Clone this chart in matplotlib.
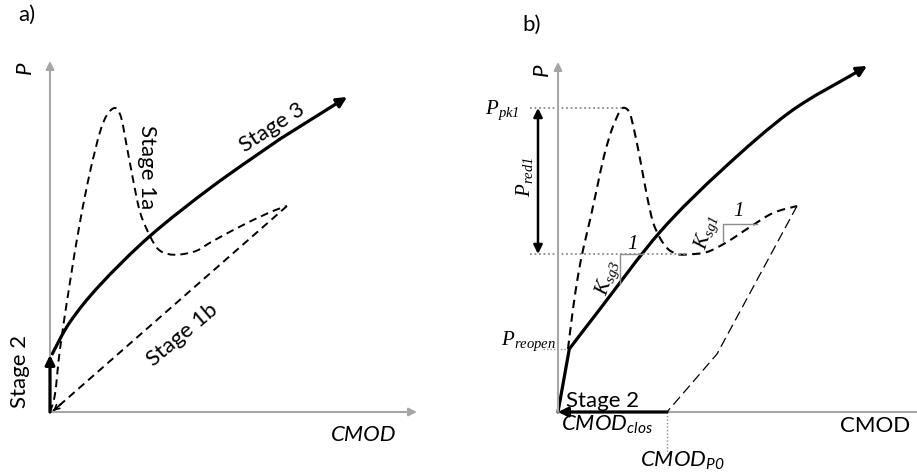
import numpy as np
import matplotlib
matplotlib.use("Agg")
import matplotlib.pyplot as plt
from matplotlib.path import Path
from matplotlib.patches import PathPatch

plt.rcParams['font.family'] = ['Lato', 'DejaVu Sans']
plt.rcParams['mathtext.fontset'] = 'custom'
plt.rcParams['mathtext.rm'] = 'Lato'
plt.rcParams['mathtext.it'] = 'Lato:italic'
plt.rcParams['mathtext.sf'] = 'Lato:italic'
plt.rcParams['mathtext.cal'] = 'Liberation Serif:italic'

# ---------------- panel a: schematic load (P) vs CMOD ----------------
a_stage2_cmod = [0, 0]
a_stage2_p = [0, 57]

a_stage3_cmod = [1.7, 20, 50, 100, 163, 230, 297]
a_stage3_p = [57, 90, 127, 176, 226, 273, 315]

a_stage1a_cmod = [0, 5, 10, 20, 30, 40, 50, 57, 65, 71, 76, 82, 90, 100,
                  108, 118, 130, 146.7, 163, 197, 223, 237]
a_stage1a_p = [0, 18, 63, 130, 190, 240, 280, 297, 304, 295, 270, 238, 200,
               176, 163, 158, 157.5, 161.3, 171, 189, 201, 206]

a_stage1b_cmod = [237, 3]
a_stage1b_p = [206, 1]

# ---------------- panel b: cyclic schematic ----------------
b_close_cmod = [109, 0]
b_close_p = [0, 0]
b_reopen_cmod = [0, 11.3]
b_reopen_p = [0, 63]

b_stage3_cmod = [11.3, 42, 102, 165, 232, 292, 309]
b_stage3_p = [63, 103, 180, 243, 300, 336, 346]

b_first_cmod = [10, 15, 20, 25, 32, 39, 46, 54, 62, 67, 72, 77, 83, 89, 95,
                102, 110, 119, 129, 149, 169, 192, 215, 239]
b_first_p = [63, 103, 136, 162, 192, 224, 256, 283, 301, 304, 298, 278, 248,
             216, 190, 174, 163, 158, 157.5, 160, 170, 185, 199, 206]

b_unload_cmod = [239, 159, 109]
b_unload_p = [206, 58, 0]

p_pk1 = 304
p_red1_level = 158
p_reopen = 63
cmod_p0 = 109

AXIS_GREY = '#a6a6a6'
DOT_GREY = '#8c8c8c'


def smooth_path(xs, ys):
    """Catmull-Rom control points rendered as cubic Bezier segments."""
    pts = np.column_stack([xs, ys]).astype(float)
    n = len(pts)
    verts = [pts[0]]
    codes = [Path.MOVETO]
    for i in range(n - 1):
        p0 = pts[i - 1] if i > 0 else pts[i]
        p1 = pts[i]
        p2 = pts[i + 1]
        p3 = pts[i + 2] if i + 2 < n else pts[i + 1]
        c1 = p1 + (p2 - p0) / 6.0
        c2 = p2 - (p3 - p1) / 6.0
        verts += [c1, c2, p2]
        codes += [Path.CURVE4] * 3
    return Path(verts, codes)


def draw_curve(ax, xs, ys, lw, ls='-', color='k'):
    patch = PathPatch(smooth_path(xs, ys), facecolor='none', edgecolor=color,
                      lw=lw, linestyle=ls, capstyle='butt', joinstyle='round')
    ax.add_patch(patch)


def arrow(ax, start, end, color='k', lw=2.2, style='-|>', scale=16):
    ax.annotate('', xy=end, xytext=start,
                arrowprops=dict(arrowstyle=style, color=color, lw=lw,
                                mutation_scale=scale, shrinkA=0, shrinkB=0))


fig = plt.figure(figsize=(9.17, 4.77), dpi=100)
fig.patch.set_facecolor('white')

ax_a = fig.add_axes([0, 0, 458 / 917, 1])
ax_a.set_xlim(-50, 408)
ax_a.set_ylim(-64, 413)
ax_b = fig.add_axes([458 / 917, 0, 459 / 917, 1])
ax_b.set_xlim(-100, 359)
ax_b.set_ylim(-64, 413)
for ax in (ax_a, ax_b):
    ax.set_axis_off()

DASH = (0, (4.0, 2.6))
SANS = 16
SERIF = 15

# ---- panel a ----
arrow(ax_a, (0, 0), (0, 351), color=AXIS_GREY, lw=1.5, scale=12)
arrow(ax_a, (0, 0), (367, 0), color=AXIS_GREY, lw=1.5, scale=12)

draw_curve(ax_a, a_stage1a_cmod, a_stage1a_p, lw=1.4, ls=DASH)
ax_a.plot(a_stage1b_cmod, a_stage1b_p, color='k', lw=1.4, linestyle=DASH,
          solid_capstyle='butt')
arrow(ax_a, (a_stage1b_cmod[1] + 8, a_stage1b_p[1] + 7),
      (a_stage1b_cmod[1], a_stage1b_p[1]), lw=1.2, style='->', scale=9)

draw_curve(ax_a, a_stage3_cmod[:-1], a_stage3_p[:-1], lw=2.3)
arrow(ax_a, (a_stage3_cmod[-2], a_stage3_p[-2]),
      (a_stage3_cmod[-1], a_stage3_p[-1]), lw=2.3, scale=15)
arrow(ax_a, (a_stage2_cmod[0], a_stage2_p[0]),
      (a_stage2_cmod[1], a_stage2_p[1]), lw=2.3, scale=14)

ax_a.text(-23, 398, 'a)', fontsize=SANS, ha='center', va='center')
ax_a.text(-25, 345, 'P', fontsize=SANS, style='italic', rotation=90,
          ha='center', va='center')
ax_a.text(314, -22, 'CMOD', fontsize=SANS, style='italic', ha='center',
          va='center')
ax_a.text(222, 285, 'Stage 3', fontsize=SANS, rotation=33, ha='center',
          va='center', rotation_mode='anchor')
ax_a.text(97, 246, 'Stage 1a', fontsize=SANS, rotation=-90, ha='center',
          va='center', rotation_mode='anchor')
ax_a.text(132, 78, 'Stage 1b', fontsize=SANS, rotation=40, ha='center',
          va='center', rotation_mode='anchor')
ax_a.text(-30, 42, 'Stage 2', fontsize=SANS, rotation=90, ha='center',
          va='center', rotation_mode='anchor')

# ---- panel b ----
arrow(ax_b, (0, 0), (0, 350), color=AXIS_GREY, lw=1.5, scale=12)
ax_b.plot([0, 359], [0, 0], color=AXIS_GREY, lw=1.5)

# reference levels
DOTS = (0, (1, 1.5))
ax_b.plot([-28, 65], [p_pk1, p_pk1], color=DOT_GREY, lw=1.3, linestyle=DOTS)
ax_b.plot([-28, 129], [p_red1_level, p_red1_level], color=DOT_GREY, lw=1.3,
          linestyle=DOTS)
ax_b.plot([-15, 11.3], [p_reopen, p_reopen], color=DOT_GREY, lw=1.0,
          linestyle=DOTS)
ax_b.plot([cmod_p0, cmod_p0], [0, -42], color=DOT_GREY, lw=1.0,
          linestyle=DOTS)

# P_red1 double arrow
ax_b.annotate('', xy=(-20, p_red1_level), xytext=(-20, p_pk1),
              arrowprops=dict(arrowstyle='<|-|>', color='k', lw=1.8,
                              mutation_scale=13, shrinkA=0, shrinkB=0))

# slope triangles
ax_b.plot([62, 62, 84], [128, p_red1_level, p_red1_level], color=DOT_GREY, lw=1.0)
ax_b.plot([165, 165, 199], [171, 188, 188], color=DOT_GREY, lw=1.0)

draw_curve(ax_b, b_first_cmod, b_first_p, lw=1.5, ls=DASH)
ax_b.plot(b_unload_cmod, b_unload_p, color='k', lw=0.9,
          linestyle=(0, (8, 4)))

ax_b.plot(b_reopen_cmod, b_reopen_p, color='k', lw=2.3, solid_capstyle='round')
draw_curve(ax_b, b_stage3_cmod[:-1], b_stage3_p[:-1], lw=2.3)
arrow(ax_b, (b_stage3_cmod[-2], b_stage3_p[-2]),
      (b_stage3_cmod[-1], b_stage3_p[-1]), lw=2.3, scale=15)
arrow(ax_b, (b_close_cmod[0], b_close_p[0]), (b_close_cmod[1], b_close_p[1]),
      lw=2.3, scale=14)

ax_b.text(-26, 388, 'b)', fontsize=SANS, ha='center', va='center')
ax_b.text(-16, 343, 'P', fontsize=SANS, style='italic', rotation=90,
          ha='center', va='center')
ax_b.text(-56, 303, r'$\mathcal{P}_{\mathcal{pk1}}$', fontsize=SERIF,
          ha='center', va='center')
ax_b.text(-33, 236, r'$\mathcal{P}_{\mathcal{red1}}$', fontsize=SERIF,
          rotation=90, ha='center', va='center')
ax_b.text(-29, 72, r'$\mathcal{P}_{\mathcal{reopen}}$', fontsize=SERIF,
          ha='center', va='center')
ax_b.text(45, 12, 'Stage 2', fontsize=SANS, ha='center', va='center')
ax_b.text(49, -12, r'$\mathsf{CMOD}_{\mathsf{clos}}$', fontsize=SANS,
          ha='center', va='center')
ax_b.text(124, -48, r'$\mathsf{CMOD}_{\mathsf{P0}}$', fontsize=SANS,
          ha='center', va='center')
ax_b.text(317, -13, 'CMOD', fontsize=SANS, ha='center', va='center')
ax_b.text(74, 170, r'$\mathcal{1}$', fontsize=SERIF, ha='center', va='center')
ax_b.text(50, 135, r'$\mathcal{K}_{\mathcal{sg3}}$', fontsize=SERIF,
          rotation=72, ha='center', va='center')
ax_b.text(180, 203, r'$\mathcal{1}$', fontsize=SERIF, ha='center', va='center')
ax_b.text(149, 180, r'$\mathcal{K}_{\mathcal{sg1}}$', fontsize=SERIF,
          rotation=72, ha='center', va='center')

fig.savefig('out.png', dpi=100, facecolor='white')
